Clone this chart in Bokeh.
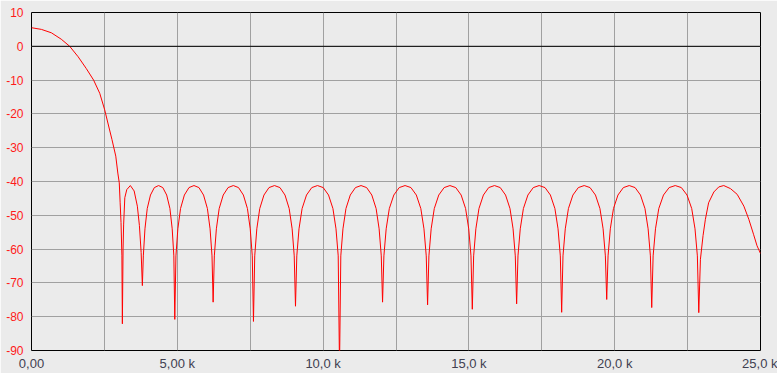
from bokeh.plotting import figure
from bokeh.models import Range1d, FixedTicker, Span
from bokeh.embed import file_html
from bokeh.resources import INLINE

# ---- data (frequency in kHz, level in dB) ----
freq_khz = [
    0.00, 0.34, 0.68, 1.02, 1.31, 1.60, 1.88, 2.13, 2.34, 2.51, 2.62, 2.76, 2.89, 2.96, 3.01, 3.04, 3.07, 3.10,
    3.116,
    3.14, 3.16, 3.20, 3.267, 3.39, 3.52, 3.63, 3.70, 3.76,
    3.802,
    3.835, 3.891, 3.969, 4.080, 4.213, 4.358, 4.503, 4.636, 4.747, 4.825, 4.881,
    4.914,
    4.953, 5.019, 5.111, 5.243, 5.401, 5.572, 5.742, 5.900, 6.032, 6.124, 6.190,
    6.229,
    6.270, 6.340, 6.436, 6.575, 6.741, 6.921, 7.100, 7.266, 7.405, 7.501, 7.571,
    7.612,
    7.655, 7.727, 7.828, 7.972, 8.145, 8.333, 8.520, 8.693, 8.837, 8.938, 9.010,
    9.053,
    9.098, 9.174, 9.280, 9.431, 9.612, 9.808, 10.004, 10.186, 10.337, 10.442, 10.518,
    10.563,
    10.607, 10.681, 10.784, 10.932, 11.109, 11.301, 11.493, 11.670, 11.818, 11.921, 11.995,
    12.039,
    12.085, 12.163, 12.271, 12.425, 12.610, 12.811, 13.012, 13.197, 13.351, 13.459, 13.537,
    13.583,
    13.629, 13.706, 13.813, 13.967, 14.151, 14.350, 14.550, 14.734, 14.887, 14.994, 15.071,
    15.117,
    15.163, 15.239, 15.345, 15.497, 15.679, 15.877, 16.075, 16.257, 16.409, 16.515, 16.591,
    16.637,
    16.683, 16.761, 16.869, 17.023, 17.208, 17.409, 17.610, 17.795, 17.949, 18.057, 18.135,
    18.181,
    18.227, 18.305, 18.413, 18.567, 18.753, 18.954, 19.154, 19.340, 19.494, 19.602, 19.680,
    19.726,
    19.772, 19.850, 19.958, 20.112, 20.297, 20.498, 20.699, 20.884, 21.038, 21.146, 21.224,
    21.270,
    21.318, 21.399, 21.512, 21.673, 21.867, 22.077, 22.286, 22.480, 22.641, 22.754, 22.835,
    22.883,
    22.94, 23.03, 23.11, 23.22, 23.40, 23.57, 23.74, 23.97, 24.20, 24.43, 24.60, 24.76, 24.88, 25.00,
]

level_db = [
    5.5, 5.0, 4.0, 2.1, 0.0, -3.1, -6.6, -10.0, -13.9, -18.8, -22.7, -27.6, -32.5, -37.5, -40.4, -46.3, -52.1, -62.0,
    -82.1,
    -60.0, -52.6, -44.8, -42.4, -41.2, -42.8, -47.3, -53.0, -61.0,
    -70.8,
    -62.0, -54.0, -48.0, -44.0, -41.8, -41.2, -41.8, -44.0, -48.0, -54.0, -62.0,
    -80.8,
    -62.0, -54.0, -48.0, -44.0, -41.8, -41.2, -41.8, -44.0, -48.0, -54.0, -62.0,
    -75.7,
    -62.0, -54.0, -48.0, -44.0, -41.8, -41.2, -41.8, -44.0, -48.0, -54.0, -62.0,
    -81.4,
    -62.0, -54.0, -48.0, -44.0, -41.8, -41.2, -41.8, -44.0, -48.0, -54.0, -62.0,
    -76.9,
    -62.0, -54.0, -48.0, -44.0, -41.8, -41.2, -41.8, -44.0, -48.0, -54.0, -62.0,
    -95.0,
    -62.0, -54.0, -48.0, -44.0, -41.8, -41.2, -41.8, -44.0, -48.0, -54.0, -62.0,
    -75.7,
    -62.0, -54.0, -48.0, -44.0, -41.8, -41.2, -41.8, -44.0, -48.0, -54.0, -62.0,
    -76.5,
    -62.0, -54.0, -48.0, -44.0, -41.8, -41.2, -41.8, -44.0, -48.0, -54.0, -62.0,
    -77.8,
    -62.0, -54.0, -48.0, -44.0, -41.8, -41.2, -41.8, -44.0, -48.0, -54.0, -62.0,
    -76.2,
    -62.0, -54.0, -48.0, -44.0, -41.8, -41.2, -41.8, -44.0, -48.0, -54.0, -62.0,
    -78.7,
    -62.0, -54.0, -48.0, -44.0, -41.8, -41.2, -41.8, -44.0, -48.0, -54.0, -62.0,
    -74.9,
    -62.0, -54.0, -48.0, -44.0, -41.8, -41.2, -41.8, -44.0, -48.0, -54.0, -62.0,
    -77.3,
    -62.0, -54.0, -48.0, -44.0, -41.8, -41.2, -41.8, -44.0, -48.0, -54.0, -62.0,
    -78.8,
    -63.0, -56.0, -51.2, -46.3, -43.1, -41.6, -41.2, -42.1, -43.8, -47.3, -51.2, -55.6, -59.0, -61.3,
]

x_grid_khz = [0, 2.5, 5, 7.5, 10, 12.5, 15, 17.5, 20, 22.5, 25]
x_label_khz = [0, 5, 10, 15, 20, 25]
x_labels = ["0,00", "5,00 k", "10,0 k", "15,0 k", "20,0 k", "25,0 k"]
y_ticks = [10, 0, -10, -20, -30, -40, -50, -60, -70, -80, -90]
y_labels = ["10", "0", "-10", "-20", "-30", "-40", "-50", "-60", "-70", "-80", "-90"]

BG = "#ebebeb"
GRID = "#a0a0a0"

p = figure(width=777, height=373, output_backend="svg", toolbar_location=None,
           x_range=Range1d(0, 25), y_range=Range1d(-90, 10),
           min_border_left=31, min_border_right=17, min_border_top=12, min_border_bottom=21)

p.background_fill_color = BG
p.border_fill_color = BG
p.outline_line_color = "black"
p.outline_line_width = 1

for ax in (p.xaxis, p.yaxis):
    ax.axis_line_color = None
    ax.major_tick_line_color = None
    ax.minor_tick_line_color = None
    ax.major_tick_out = 0
    ax.major_tick_in = 0
    ax.minor_tick_out = 0
    ax.major_label_text_font = "Liberation Sans"

p.xaxis.ticker = FixedTicker(ticks=x_label_khz)
p.xaxis.major_label_overrides = {k: v for k, v in zip(x_label_khz, x_labels)}
p.xaxis.major_label_standoff = 5
p.xaxis.major_label_text_font_size = "13px"
p.xaxis.major_label_text_color = "#404050"

p.yaxis.ticker = FixedTicker(ticks=y_ticks)
p.yaxis.major_label_overrides = {k: v for k, v in zip(y_ticks, y_labels)}
p.yaxis.major_label_standoff = 8
p.yaxis.major_label_text_font_size = "12px"
p.yaxis.major_label_text_color = "#ff1a1a"

p.xgrid.ticker = FixedTicker(ticks=x_grid_khz)
p.ygrid.ticker = FixedTicker(ticks=y_ticks)
p.xgrid.grid_line_color = GRID
p.ygrid.grid_line_color = GRID
p.xgrid.grid_line_width = 1
p.ygrid.grid_line_width = 1

p.add_layout(Span(location=0, dimension="width", line_color="black", line_width=1))

p.line(freq_khz, level_db, line_color="red", line_width=1)

open("out.html", "w").write(file_html(p, INLINE))
